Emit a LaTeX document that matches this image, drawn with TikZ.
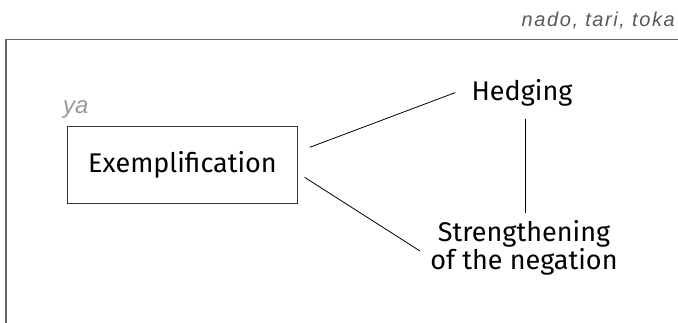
\documentclass[tikz,border=0pt]{standalone}
\usepackage{fontspec}
\setmainfont{Fira Sans}
\newfontfamily\notefont[LetterSpace=8]{Liberation Sans}
\newfontfamily\yafont{Liberation Sans}
\begin{document}
\begin{tikzpicture}[x=1pt,y=-1pt,
  lab/.style={font=\fontsize{27}{26.3}\selectfont, inner sep=0pt, text=black},
  note/.style={inner sep=0pt},
  conn/.style={draw=black, line width=0.8pt},
  framecol/.style={draw=black!60, line width=1.2pt}]
\useasboundingbox (0,0) rectangle (678,322);
\draw[framecol] (680,39.5) -- (6,39.5) -- (6,325);
\node[note, text=black!65, anchor=base east, font={\notefont\itshape\fontsize{20}{22}\selectfont}] (nt) at (675,26) {nado, tari, toka};
\node[note, text=black!40, anchor=base west, font={\yafont\itshape\fontsize{24}{26}\selectfont}] (ya) at (63,113) {ya};
\node[draw=black!80, line width=1pt, minimum width=230.5pt, minimum height=77.7pt, inner sep=0pt,
      font=\fontsize{27}{29}\selectfont] (ex) at (182.5,165) {Exemplification};
\node[lab, anchor=base] (hed) at (522,100.7) {Hedging};
\node[lab, anchor=base, align=center] (str) at (524,269) {Strengthening\\of the negation};
\draw[conn] ([shift={(11.5,-17.7)}]ex.east) -- ([shift={(-67,-8)}]hed.base);
\draw[conn] ([shift={(6.3,12.3)}]ex.east) -- ([shift={(-104,-18)}]str.base);
\draw[conn] ([shift={(3.7,18.6)}]hed.base) -- ([shift={(1.7,-56.3)}]str.base);
\end{tikzpicture}
\end{document}
